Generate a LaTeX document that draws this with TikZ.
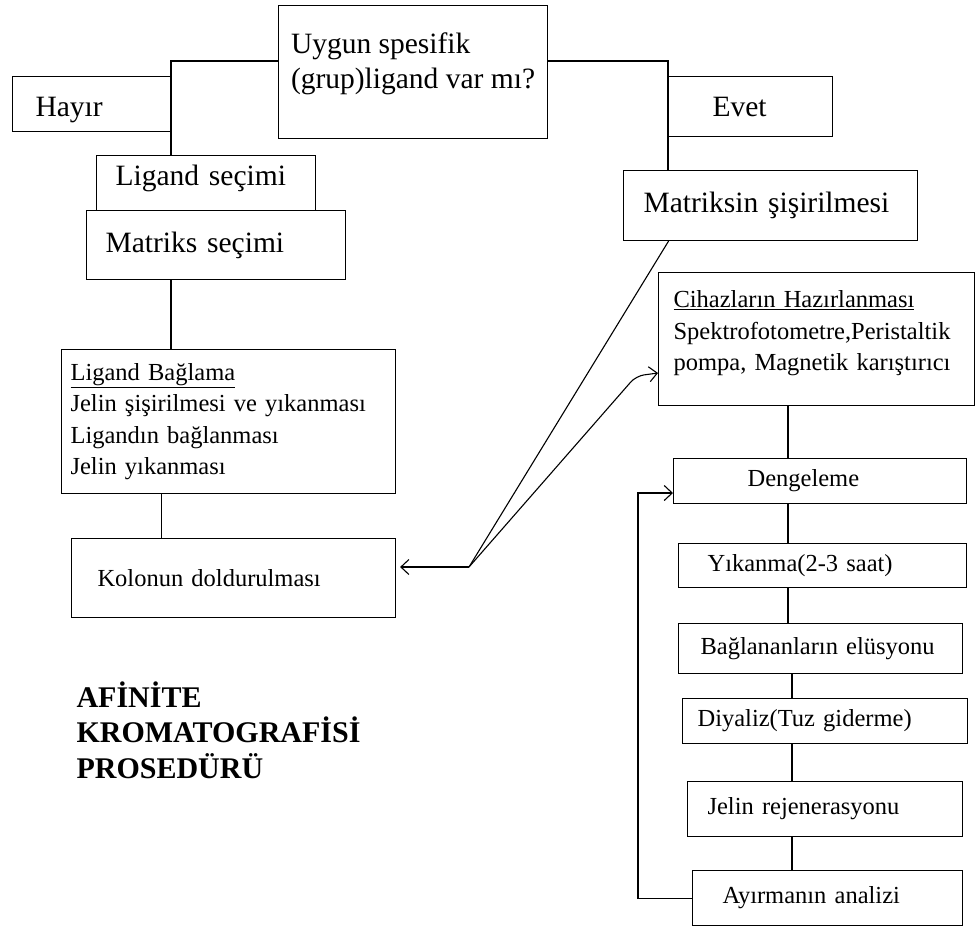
\documentclass[tikz,border=0pt]{standalone}
\usepackage{fontspec}
\setmainfont{Liberation Serif}
\usepackage{xcolor}
\usepackage{tikz}
\usetikzlibrary{arrows.meta}
\newcommand{\bigtxt}{\fontsize{29.5}{35}\selectfont}
\newcommand{\smalltxt}{\fontsize{24.5}{31.5}\selectfont}
\newcommand{\alt}[1]{\rule[-#1]{0pt}{#1}}
\newcommand{\ust}[1]{\rule{0pt}{#1}}

\begin{document}
\begin{tikzpicture}[x=1pt,y=-1pt,line width=1.1pt,
  box/.style={draw,anchor=north west,align=left,inner sep=0pt},
  big/.style={box,font=\bigtxt},
  small/.style={box,font=\smalltxt},
  barb/.style={-{Straight Barb[length=8pt,width=15pt,line width=1.1pt]}}]
\useasboundingbox (0,0) rectangle (976,927);
\node [big,minimum width=269pt,minimum height=133pt] (uygun) at (278,5) {Uygun spesifik\\(grup)ligand var mı?\alt{22pt}};
\node [big,minimum width=159pt,minimum height=55pt,text width=113pt] (hayir) at (12,76) {\ust{31pt}Hayır};
\node [big,minimum width=164pt,minimum height=60pt,text width=76pt] (evet) at (668,76) {Evet};
\node [big,minimum width=219pt,minimum height=55pt,text width=181pt] (ligand) at (96,155) {Ligand seçimi\alt{16pt}};
\node [big,minimum width=259pt,minimum height=69pt,text width=221pt] (matriks) at (86,210) {Matriks seçimi};
\node [big,minimum width=294pt,minimum height=70pt,text width=254pt] (sisirme) at (623,170) {Matriksin şişirilmesi};
\node [small,minimum width=334pt,minimum height=144pt,text width=316pt] (baglama) at (61,349)
  {\underline{Ligand Bağlama}\\Jelin şişirilmesi ve yıkanması\\Ligandın bağlanması\\Jelin yıkanması};
\node [small,minimum width=324pt,minimum height=79pt,text width=272pt] (kolon) at (71,538) {Kolonun doldurulması};
\node [small,minimum width=316pt,minimum height=133pt,text width=286pt] (cihaz) at (658,272)
  {\underline{Cihazların Hazırlanması}\\Spektrofotometre,Peristaltik\\pompa, Magnetik karıştırıcı\alt{17pt}};
\node [small,minimum width=293pt,minimum height=45pt,text width=145pt] (denge) at (673,458) {Dengeleme};
\node [small,minimum width=288pt,minimum height=44pt,text width=230pt] (yikama) at (678,543) {Yıkanma(2-3 saat)};
\node [small,minimum width=284pt,minimum height=50pt,text width=240pt] (elusyon) at (678,623) {Bağlananların elüsyonu};
\node [small,minimum width=285pt,minimum height=45pt,text width=255pt] (diyaliz) at (682,698) {Diyaliz(Tuz giderme)};
\node [small,minimum width=275pt,minimum height=55pt,text width=235pt] (rejen) at (687,781) {Jelin rejenerasyonu};
\node [small,minimum width=270pt,minimum height=55pt,text width=210pt] (analiz) at (692,870) {Ayırmanın analizi};
\node [anchor=north west,align=left,inner sep=0pt,font=\bfseries\fontsize{30}{35.5}\selectfont] (baslik) at (76,681)
  {AFİNİTE\\KROMATOGRAFİSİ\\PROSEDÜRÜ};
\coordinate (hayirkol) at (171,61);
\coordinate (evetkol) at (668,61);
\coordinate (ayrim) at (469,567);
\coordinate (kirik) at (636,376);
\coordinate (omurga) at (788,0);
\coordinate (omurgaalt) at (792,0);
\coordinate (donus) at (638,493);
\draw (uygun.west |- hayirkol) -- (hayirkol) -- (hayirkol |- ligand.north);
\draw (uygun.east |- evetkol) -- (evetkol) -- (evetkol |- sisirme.north);
\draw (matriks.south -| hayirkol) -- (baglama.north -| hayirkol);
\draw ([xshift=-67pt]baglama.south) -- ([xshift=-67pt]baglama.south |- kolon.north);
\draw ([xshift=-102pt]sisirme.south) -- (ayrim);
\draw [barb,shorten >=4pt] (ayrim) -- (kolon.east |- ayrim);
\draw [barb,rounded corners=8pt] (ayrim) -- (kirik) -- (cihaz.west |- 0,373);
\draw (cihaz.south -| omurga) -- (denge.north -| omurga);
\draw (denge.south -| omurga) -- (yikama.north -| omurga);
\draw (yikama.south -| omurga) -- (elusyon.north -| omurga);
\draw (elusyon.south -| omurgaalt) -- (diyaliz.north -| omurgaalt);
\draw (diyaliz.south -| omurgaalt) -- (rejen.north -| omurgaalt);
\draw (rejen.south -| omurgaalt) -- (analiz.north -| omurgaalt);
\draw [barb] (analiz.west) -| (donus) -- (denge.west |- donus);
\end{tikzpicture}
\end{document}
